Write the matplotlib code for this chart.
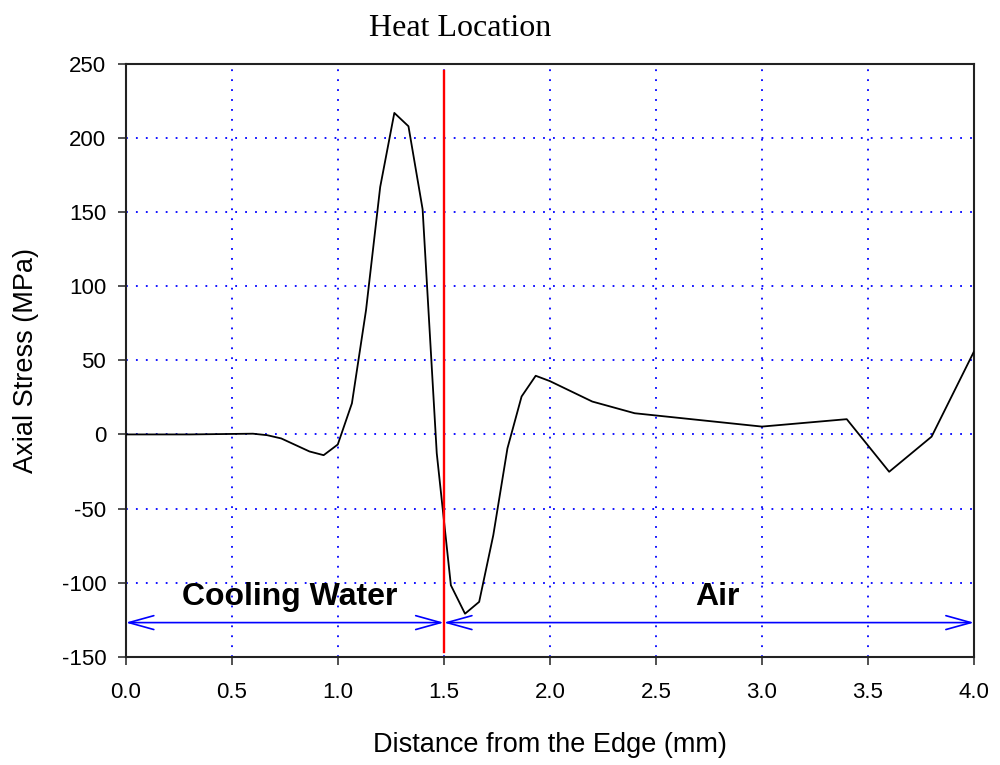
import numpy as np
import matplotlib
matplotlib.use("Agg")
import matplotlib.pyplot as plt
from matplotlib.patches import ArrowStyle

# distance from edge (mm) and axial stress (MPa)
dist = [0.0, 0.3, 0.6, 0.6667, 0.7333, 0.8667, 0.9333, 1.0, 1.0667, 1.1333,
        1.2, 1.2667, 1.3333, 1.4, 1.4667, 1.5333, 1.6, 1.6667, 1.7333, 1.8,
        1.8667, 1.9333, 2.0, 2.2, 2.4, 3.0, 3.4, 3.6, 3.8, 4.0]
stress = [0.0, 0.0, 0.5, -0.5, -2.7, -11.5, -14.0, -6.8, 21.0, 84.0,
          167.0, 217.0, 208.0, 152.0, -12.7, -101.8, -121.0, -113.0, -68.0, -9.4,
          25.6, 39.6, 36.0, 22.2, 14.3, 5.3, 10.3, -25.2, -1.5, 56.0]

heat_x = 1.5
red_span = [-147, 245]
arrow_y = -127
regions = [(0.0, 1.5), (1.5, 4.0)]
region_labels = ["Cooling Water", "Air"]
label_x = [0.775, 2.79]
label_y = -115

xticks = np.arange(0, 4.01, 0.5)
yticks = np.arange(-150, 251, 50)

plt.rcParams['font.family'] = ['Liberation Sans', 'DejaVu Sans']

fig = plt.figure(figsize=(10, 7.65), dpi=100)
ax = fig.add_axes([0.1257, 0.1416, 0.974 - 0.1257, 0.9163 - 0.1416])

ax.plot(dist, stress, color="black", lw=1.3, zorder=3)
ax.plot([heat_x, heat_x], red_span, color="red", lw=1.7, zorder=4)

style = ArrowStyle("<->", head_length=0.9, head_width=0.25)
for (a, b) in regions:
    ax.annotate("", xy=(b, arrow_y), xytext=(a, arrow_y),
                arrowprops=dict(arrowstyle=style, color="blue", lw=1.2,
                                shrinkA=0, shrinkB=0, mutation_scale=20),
                annotation_clip=False, zorder=5)

for lab, lx in zip(region_labels, label_x):
    ax.text(lx, label_y, lab, ha="center", va="baseline",
            fontsize=23, fontweight="bold", zorder=6)

ax.set_xlim(0, 4)
ax.set_ylim(-150, 250)
ax.set_xticks(xticks)
ax.set_yticks(yticks)
ax.set_xticklabels(["%.1f" % v for v in xticks])
ax.set_yticklabels(["%d" % v for v in yticks])
ax.grid(True, color="blue", linestyle=(0, (1, 4.5)), linewidth=1.3)
ax.tick_params(direction="out", length=6, width=1.2, labelsize=16,
               colors="#333333", labelcolor="black")
ax.tick_params(axis="y", pad=8)
ax.tick_params(axis="x", pad=12)
for s in ax.spines.values():
    s.set_linewidth(1.5)
    s.set_color("#222222")

ax.set_xlabel("Distance from the Edge (mm)", fontsize=19.5, labelpad=21)
ax.set_ylabel("Axial Stress (MPa)", fontsize=19.5, labelpad=16)

fig.text(0.46, 1 - 28 / 765, "Heat Location", ha="center", va="center",
         fontsize=23, family=["Liberation Serif", "DejaVu Serif"])

fig.savefig("out.png", dpi=100)
